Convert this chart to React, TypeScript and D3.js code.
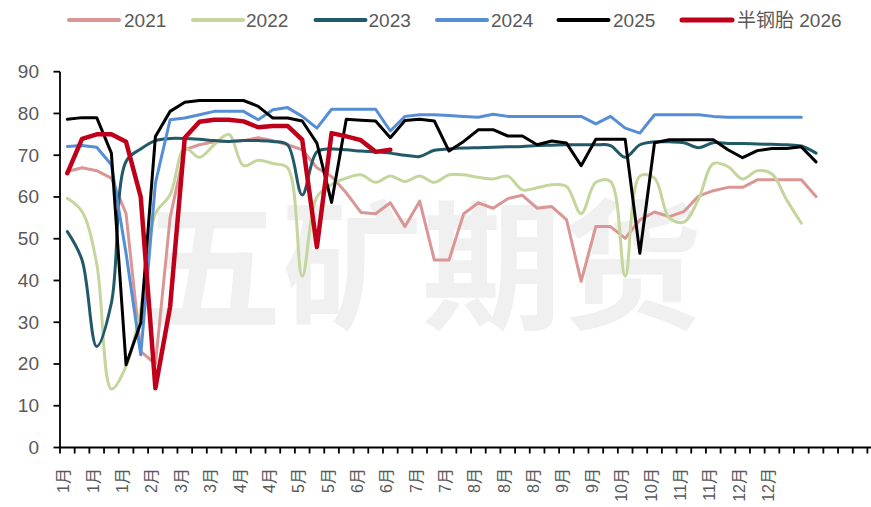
import React from "react";
import * as d3 from "d3";

const W = 871;
const H = 507;

const years = ["2021", "2022", "2023", "2024", "2025", "半钢胎 2026"];
const colors = ["#DA9694", "#C3D69B", "#215968", "#558ED5", "#000000", "#C0001A"];
const widths = [3, 3, 3, 3, 3, 4.5];
const smooth = [false, true, true, false, false, false];

const d2021 = [66.1, 67, 66.3, 64.5, 56, 23, 20, 55, 71.3, 72.5, 73.2, 73.3, 73.5, 74.2, 73.5, 72.5, 71.3, 67, 64.9, 61, 56.3, 56, 58.6, 52.9, 59, 44.9, 44.9, 56, 58.6, 57.3, 59.6, 60.4, 57.3, 57.7, 54.6, 39.8, 52.9, 52.9, 50.1, 54.5, 56.4, 55.3, 56.5, 60.2, 61.5, 62.3, 62.3, 64.1, 64.1, 64.1, 64.1, 60.1];
const d2022 = [59.7, 56.5, 44, 14, 19.5, 33, 56, 60.5, 71.7, 69.5, 72.5, 75, 67.5, 68.8, 68, 67, 41, 60, 63, 64.5, 65.3, 63.5, 65, 63.7, 65, 63.5, 65.3, 65.3, 64.7, 64.3, 65, 61.7, 62.2, 62.9, 62.5, 56, 63.5, 63.7, 41, 65, 64.5, 55, 54, 59.5, 68, 67.3, 64.3, 66.3, 65.5, 59.3, 53.7];
const d2023 = [51.7, 44.9, 24.2, 34.6, 68.5, 71.5, 73.5, 74, 74, 73.8, 73.5, 73.3, 73.5, 73.5, 73.3, 72.5, 60.5, 70.8, 71.5, 71.3, 71, 70.8, 70.5, 70, 69.7, 71.2, 71.5, 71.7, 71.8, 71.9, 72, 72.1, 72.3, 72.4, 72.5, 72.5, 72.5, 72.3, 69.5, 72.5, 73.2, 73.2, 73, 71.8, 73, 72.8, 72.8, 72.7, 72.6, 72.5, 72.2, 70.5];
const d2024 = [72.1, 72.3, 71.9, 67.7, 46.5, 22.2, 63.3, 78.5, 78.9, 79.7, 80.5, 80.5, 80.5, 78.5, 80.9, 81.4, 79.3, 76.5, 81, 81, 81, 81, 75.8, 79.3, 79.7, 79.7, 79.5, 79.3, 79.1, 79.8, 79.3, 79.3, 79.3, 79.3, 79.3, 79.3, 77.5, 79.3, 76.5, 75.3, 79.7, 79.7, 79.7, 79.7, 79.3, 79.1, 79.1, 79.1, 79.1, 79.1, 79.1];
const d2025 = [78.6, 79, 79, 70.5, 19.8, 29.8, 74.5, 80.5, 82.7, 83.1, 83.1, 83.1, 83.1, 81.7, 78.9, 78.9, 78.2, 72.9, 58.7, 78.6, 78.4, 78.2, 74.2, 78.3, 78.6, 78.2, 71, 73.3, 76.1, 76.1, 74.6, 74.6, 72.5, 73.4, 72.9, 67.5, 73.8, 73.8, 73.8, 46.5, 73, 73.7, 73.7, 73.7, 73.7, 71.3, 69.4, 71.1, 71.6, 71.6, 72, 68.4];
const d2026 = [65.7, 73.9, 75, 75, 73.2, 60, 14.2, 33.7, 74.2, 78, 78.5, 78.5, 78.1, 76.7, 77, 77, 73.7, 48, 75.3, 74.5, 73.6, 70.8, 71.3];

const series = [d2021, d2022, d2023, d2024, d2025, d2026];

const xLabels = ["1月", "1月", "1月", "2月", "3月", "3月", "4月", "4月", "5月", "5月", "6月", "6月", "7月", "7月", "8月", "8月", "8月", "9月", "9月", "10月", "10月", "11月", "11月", "12月", "12月"];
const yTicks = [0, 10, 20, 30, 40, 50, 60, 70, 80, 90];

const NCAT = 57;
const CATW = 14.68;
const X0 = 60;

const legendSwatchX = [69, 193, 315.5, 437, 558.5, 682];
const legendTextX = [124, 246, 368.5, 491, 613, 737];

export default function App() {
  const x = d3.scaleLinear().domain([0, NCAT]).range([X0, X0 + NCAT * CATW]);
  const y = d3.scaleLinear().domain([0, 90]).range([447.5, 71.7]);
  const font = "'Liberation Sans', Arial, 'Noto Sans CJK SC', sans-serif";

  const mkLine = (s: boolean) =>
    d3
      .line<number>()
      .x((_, i) => x(i + 0.5))
      .y((v) => y(v))
      .curve(s ? d3.curveCatmullRom.alpha(0.5) : d3.curveLinear);

  const ticks = d3.range(0, NCAT + 1);

  return (
    <svg width={W} height={H} style={{ position: "absolute", left: 0, top: 0, background: "#fff" }} fontFamily={font}>
      <rect x={0} y={0} width={W} height={H} fill="#fff" />
      <text x={142} y={318} fontSize={140} fontWeight="bold" fill="#f0f0f0" fontFamily="'Noto Sans CJK SC', sans-serif">
        五矿期货
      </text>
      {/* y axis */}
      <line x1={X0} x2={X0} y1={y(90)} y2={y(0)} stroke="#000" strokeWidth={1.8} />
      {yTicks.map((t) => (
        <g key={t}>
          <line x1={X0 - 6.5} x2={X0} y1={y(t)} y2={y(t)} stroke="#000" strokeWidth={1.8} />
          <text x={39} y={y(t)} textAnchor="end" dominantBaseline="central" fontSize={19} fill="#595959">
            {t}
          </text>
        </g>
      ))}
      {/* x axis */}
      <line x1={X0} x2={x(NCAT)} y1={y(0)} y2={y(0)} stroke="#000" strokeWidth={1.8} />
      {ticks.map((t) => (
        <line key={t} x1={x(t)} x2={x(t)} y1={y(0)} y2={y(0) + 6} stroke="#000" strokeWidth={1.8} />
      ))}
      {xLabels.map((l, k) => (
        <text
          key={k}
          transform={`translate(${x(2 * k + 0.5) + 2},468) rotate(-90)`}
          textAnchor="end"
          fontSize={16}
          fill="#595959"
        >
          {l}
        </text>
      ))}
      {/* series */}
      {series.map((d, i) => (
        <path
          key={i}
          d={mkLine(smooth[i])(d) || ""}
          fill="none"
          stroke={colors[i]}
          strokeWidth={widths[i]}
          strokeLinejoin="round"
          strokeLinecap="round"
        />
      ))}
      {/* legend */}
      {years.map((yr, i) => (
        <g key={yr}>
          <line
            x1={legendSwatchX[i]}
            x2={legendSwatchX[i] + 50}
            y1={20}
            y2={20}
            stroke={colors[i]}
            strokeWidth={i === 5 ? 5 : 4}
            strokeLinecap="round"
          />
          <text x={legendTextX[i]} y={20} dominantBaseline="central" fontSize={19} fill="#595959">
            {yr}
          </text>
        </g>
      ))}
    </svg>
  );
}
